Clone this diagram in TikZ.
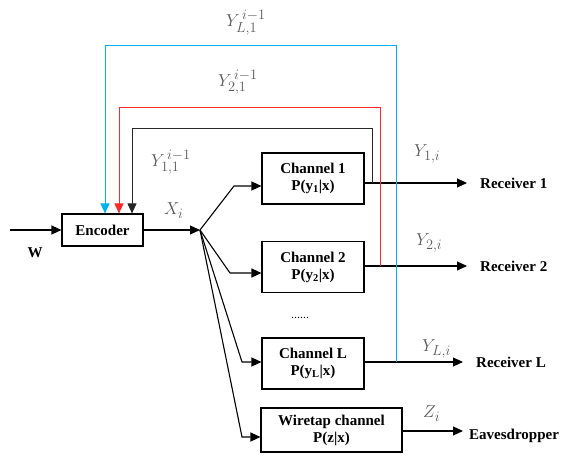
\documentclass[tikz,border=0pt]{standalone}
\usepackage{fontspec}
\setmainfont{Liberation Serif}
\usetikzlibrary{arrows.meta}
\definecolor{fbblue}{RGB}{0,176,240}
\definecolor{fbred}{RGB}{255,40,40}
\definecolor{lblgray}{RGB}{90,90,90}
\tikzset{
  box/.style={draw,line width=1.1pt,minimum height=51pt,minimum width=102pt,align=center,inner sep=0pt,font=\fontsize{15}{17}\selectfont\bfseries},
  wire/.style={line width=1.1pt},
  arr/.style={wire,-{Triangle[length=10pt,width=9pt]}},
  fb/.style={line width=0.9pt,-{Triangle[length=10pt,width=9pt]}},
  lbl/.style={anchor=base west,inner sep=0pt,text=lblgray,font=\fontsize{19}{22}\selectfont},
  txt/.style={inner sep=0pt,font=\fontsize{15}{17}\selectfont\bfseries},
}
\begin{document}
\begin{tikzpicture}[x=1pt,y=-1pt]
\useasboundingbox (0,0) rectangle (566,462);
% boxes
\node[box,minimum width=81pt,minimum height=32pt] (enc) at (102.5,230) {Encoder};
\node[box] (ch1) at (313,178.5) {Channel 1\\P(y\textsubscript{1}|x)};
\node[box] (ch2) at (313,267) {Channel 2\\P(y\textsubscript{2}|x)};
\node[box] (chL) at (313,363.5) {Channel L\\P(y\textsubscript{L}|x)};
\node[box,minimum width=141pt,minimum height=44pt] (wt) at (331.5,430) {Wiretap channel\\P(z|x)};
% texts
\node[txt] (w) at (35,253) {W};
\node[txt,anchor=west] (r1) at (480,183) {Receiver 1};
\node[txt,anchor=west] (r2) at (480,266) {Receiver 2};
\node[txt,anchor=west] (rL) at (476,362) {Receiver L};
\node[txt,anchor=west] (ev) at (469,436) {Eavesdropper};
\node[inner sep=0pt,font=\fontsize{12}{14}\selectfont] (dots) at (300,318) {......};
% coordinates
\coordinate (win) at (10,230);
\coordinate (split) at (200,230);
\coordinate (t1) at (467,183);
\coordinate (t2) at (467,266);
\coordinate (tL) at (463,362);
\coordinate (tZ) at (463,431);
% input
\draw[arr] (win) -- (enc.west);
\draw[arr] (enc.east) -- (split);
\draw[arr] (split) -- (234,186) -- (ch1.west |- 0,186);
\draw[arr] (split) -- (230,273) -- (ch2.west |- 0,273);
\draw[arr] (split) -- (242,362) -- (chL.west |- 0,362);
\draw[arr] (split) -- (242,437) -- (wt.west |- 0,437);
% outputs
\draw[arr] (ch1.east |- t1) -- (t1);
\draw[arr] (ch2.east |- t2) -- (t2);
\draw[arr] (chL.east |- tL) -- (tL);
\draw[arr] (wt.east |- tZ) -- (tZ);
% feedback
\draw[fb,black!85] (372,183) -- (372,128) -- (132,128) -- (enc.north -| 132,0);
\draw[fb,fbred] (380,266) -- (380,107) -- (119,107) -- (enc.north -| 119,0);
\draw[fb,fbblue] (396,362) -- (396,45) -- (105,45) -- (enc.north -| 105,0);
% labels
\node[lbl] (lL1) at (226,27) {$Y_{L,1}^{\,i-1}$};
\node[lbl] (l21) at (218,87) {$Y_{2,1}^{\,i-1}$};
\node[lbl] (l11) at (151,167) {$Y_{1,1}^{\,i-1}$};
\node[lbl] (lx) at (164,215) {$X_i$};
\node[lbl] (ly1) at (414,157) {$Y_{1,i}$};
\node[lbl] (ly2) at (416,246) {$Y_{2,i}$};
\node[lbl] (lyL) at (422,352) {$Y_{L,i}$};
\node[lbl] (lz) at (423,418) {$Z_i$};
\end{tikzpicture}
\end{document}
